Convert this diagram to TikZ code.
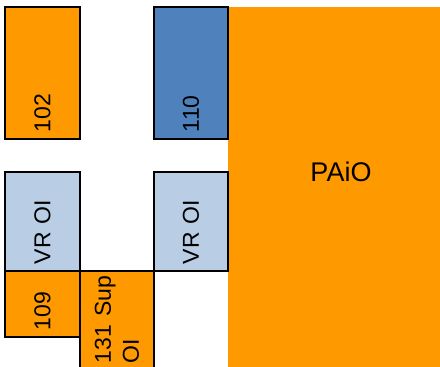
\documentclass[tikz,border=0pt]{standalone}
\usepackage{fontspec}
\setmainfont{Liberation Sans}
\definecolor{po}{RGB}{255,153,0}
\definecolor{pb}{RGB}{79,129,189}
\definecolor{pl}{RGB}{185,205,229}
\begin{document}
\begin{tikzpicture}[x=1pt,y=-1pt,
  blk/.style={draw=black, line width=1.3pt, rotate=90, inner xsep=7pt, inner ysep=0pt,
    align=left, font=\fontsize{23}{28}\selectfont},
]
\useasboundingbox (0,0) rectangle (440,367);
\clip (0,0) rectangle (440,367);
\node[fill=po, minimum width=240pt, minimum height=400pt, inner sep=0pt] (paio) at (348,207) {};
\node[font=\fontsize{27}{32}\selectfont, inner sep=0pt] (paiotext) at (341,172) {PAiO};
\node[blk, fill=po, minimum height=75pt, text width=118pt] (b102) at (42.5,73) {102};
\node[blk, fill=pb, minimum height=74pt, text width=118pt] (b110) at (191,73) {110};
\node[blk, fill=pl, minimum height=75pt, text width=85pt] (vr1) at (42.5,221.5) {VR OI};
\node[blk, fill=pl, minimum height=74pt, text width=85pt] (vr2) at (191,221.5) {VR OI};
\node[blk, fill=po, minimum height=75pt, text width=52pt] (b109) at (42.5,304) {109};
\node[blk, fill=po, minimum height=74pt, inner xsep=9pt, text width=83pt] (b131) at (117,321.5) {\mbox{131 Sup}\\OI};
\end{tikzpicture}
\end{document}
